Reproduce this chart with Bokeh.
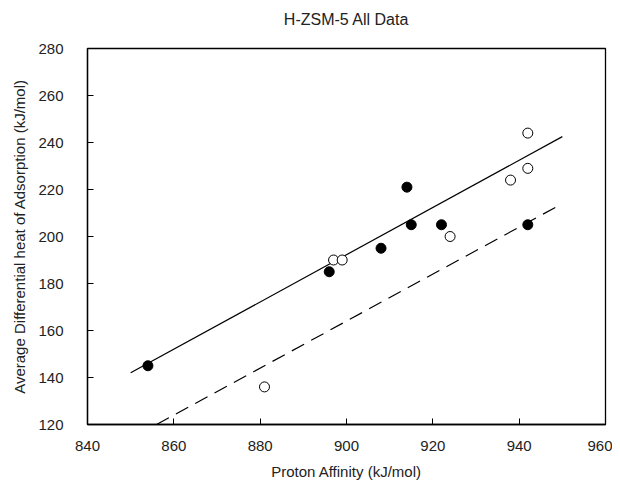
from bokeh.plotting import figure
from bokeh.models import Range1d, FixedTicker, Title
from bokeh.embed import file_html
from bokeh.resources import INLINE

# Data
filled_x = [854, 896, 908, 914, 915, 922, 942]
filled_y = [145, 185, 195, 221, 205, 205, 205]
open_x = [881, 897, 899, 924, 938, 942, 942]
open_y = [136, 190, 190, 200, 224, 229, 244]
solid_x = [850, 950]
solid_y = [142, 242.5]
dash_x = [856, 950]
dash_y = [120, 214]
x_ticks = [840, 860, 880, 900, 920, 940, 960]
y_ticks = [120, 140, 160, 180, 200, 220, 240, 260, 280]
title_text = "H-ZSM-5 All Data"

FONT = "Liberation Sans"

p = figure(width=612, height=484, output_backend="svg", toolbar_location=None,
           x_range=Range1d(840, 960), y_range=Range1d(120, 280),
           title=title_text,
           min_border_left=87, min_border_right=7, min_border_top=48, min_border_bottom=60)

p.title.align = "center"
p.title.text_font = FONT
p.title.text_font_size = "16px"
p.title.text_font_style = "normal"
p.title.text_color = "#222222"

spacer = Title(text=" ", text_font_size="12px", standoff=0)
p.add_layout(spacer, "above")

p.xgrid.visible = False
p.ygrid.visible = False
p.outline_line_color = "black"
p.outline_line_width = 1.3
p.background_fill_color = "white"

for ax in (p.xaxis[0], p.yaxis[0]):
    ax.axis_line_color = "black"
    ax.axis_line_width = 1.3
    ax.major_tick_in = 6
    ax.major_tick_out = 0
    ax.minor_tick_line_color = None
    ax.major_tick_line_color = "black"
    ax.major_label_text_font = FONT
    ax.major_label_text_font_size = "15px"
    ax.major_label_text_color = "#222222"
    ax.axis_label_text_font = FONT
    ax.axis_label_text_font_size = "15px"
    ax.axis_label_text_font_style = "normal"
    ax.axis_label_text_color = "#222222"

p.xaxis.ticker = FixedTicker(ticks=x_ticks)
p.yaxis.ticker = FixedTicker(ticks=y_ticks)
p.xaxis.axis_label = "Proton Affinity (kJ/mol)"
p.yaxis.axis_label = "Average Differential heat of Adsorption (kJ/mol)"
p.xaxis.major_label_standoff = 16
p.yaxis.major_label_standoff = 24
p.xaxis.axis_label_standoff = 9
p.yaxis.axis_label_standoff = 7

p.line(solid_x, solid_y, line_color="black", line_width=1.2)
p.line(dash_x, dash_y, line_color="black", line_width=1.2, line_dash="14 8")

p.scatter(filled_x, filled_y, size=10, marker="circle", fill_color="black", line_color="black")
p.scatter(open_x, open_y, size=10, marker="circle", fill_color="white", line_color="black", line_width=1)

open("out.html", "w").write(file_html(p, INLINE))
